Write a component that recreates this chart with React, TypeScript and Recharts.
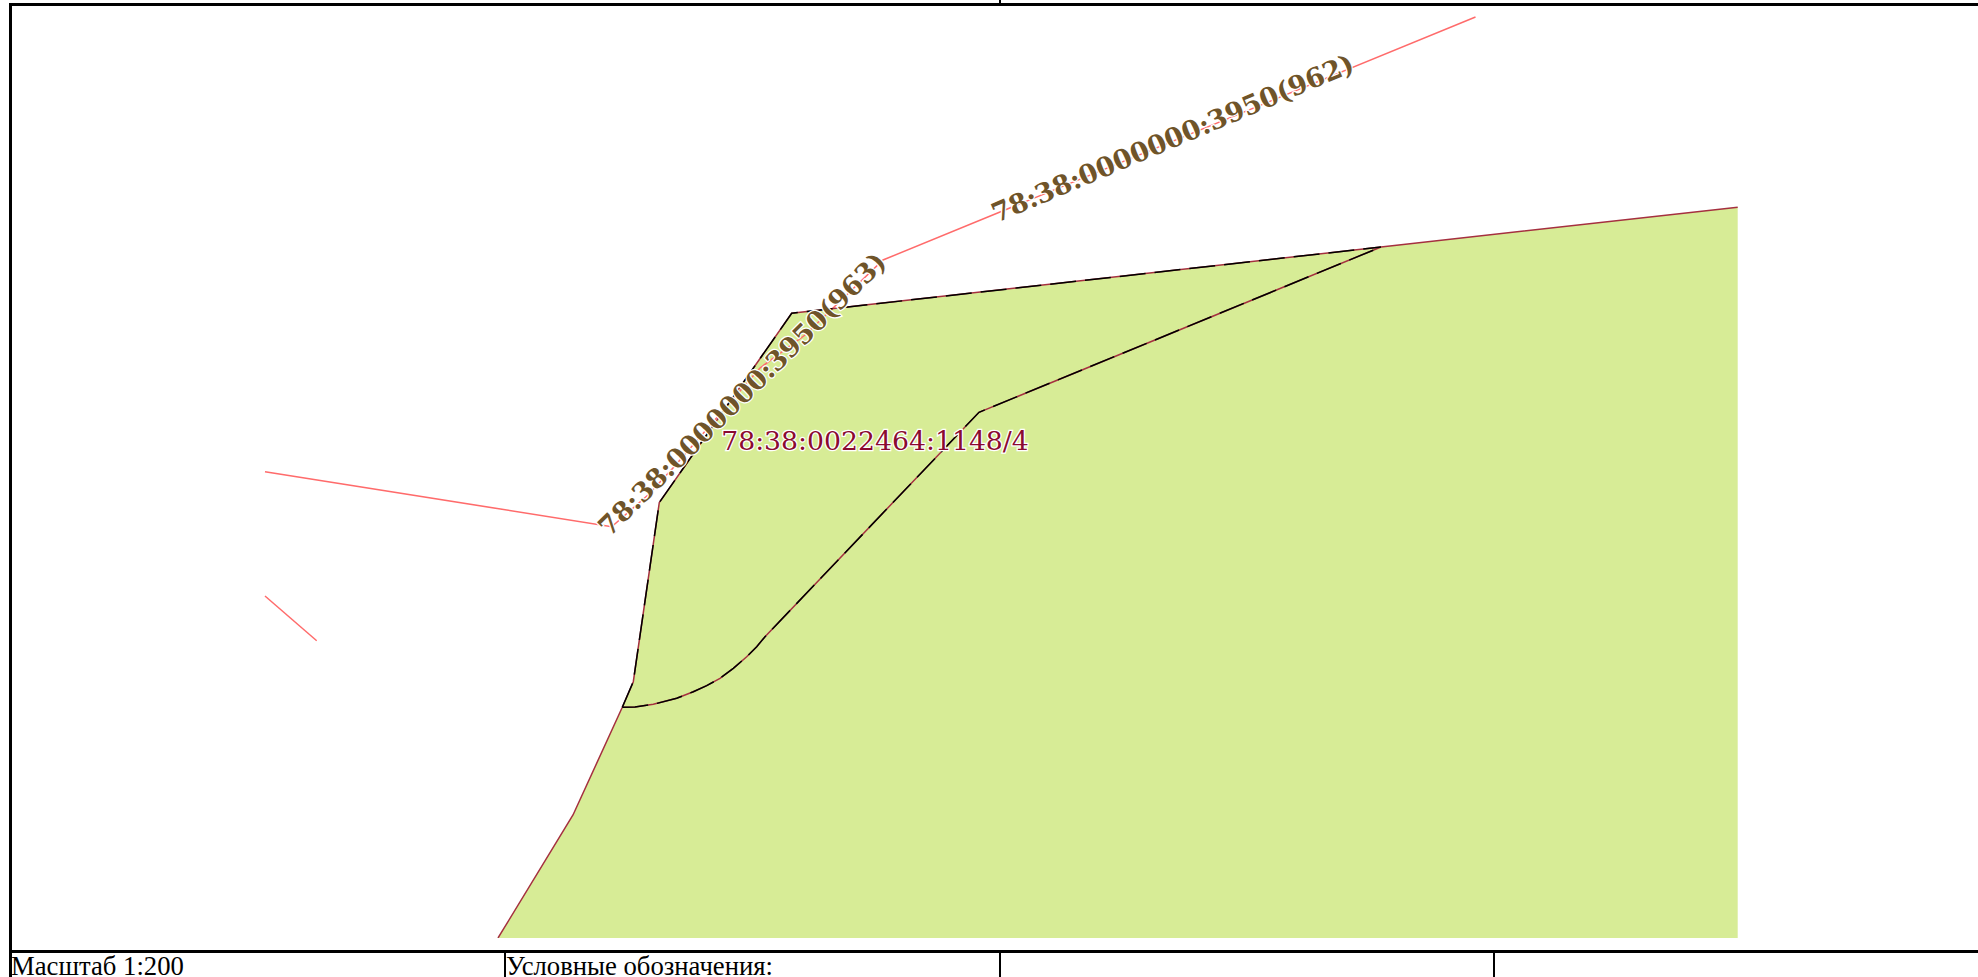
import React from 'react';
import { ComposedChart, Area, Line, XAxis, YAxis, ReferenceDot } from 'recharts';

// plan coordinates, x to the right and y up from the lower edge of the parcel
const parcelEdge = [
  { x: 498, y: 0 },
  { x: 573, y: 123 },
  { x: 622.3, y: 230.7 },
  { x: 633.3, y: 256.3 },
  { x: 659.3, y: 435.5 },
  { x: 791.7, y: 624.7 },
  { x: 1381, y: 691 },
  { x: 1737.7, y: 730.7 }
];

const innerEdge = [
  { x: 622.3, y: 230.7 },
  { x: 635, y: 231 },
  { x: 653.3, y: 233.7 },
  { x: 676.7, y: 239.7 },
  { x: 693.3, y: 246.3 },
  { x: 706.7, y: 252.3 },
  { x: 720, y: 259.7 },
  { x: 733.3, y: 269.7 },
  { x: 746.7, y: 281.3 },
  { x: 756.7, y: 291.3 },
  { x: 765, y: 301.3 },
  { x: 979, y: 525.7 },
  { x: 1381, y: 691 }
];

const dashedEdge = parcelEdge.slice(2, 7);

const neighbourLine = [
  { x: 265, y: 466.3 },
  { x: 611.7, y: 411.3 },
  { x: 648, y: 443 },
  { x: 673, y: 470 },
  { x: 760, y: 570 },
  { x: 805, y: 603 },
  { x: 883, y: 678 },
  { x: 1475.5, y: 921 }
];

const neighbourStub = [
  { x: 265, y: 342 },
  { x: 316.7, y: 297.3 }
];

const neighbourLabels = [
  { x: 742, y: 544, angle: -44.5, text: '78:38:0000000:3950(963)' },
  { x: 1172.5, y: 800, angle: -23, text: '78:38:0000000:3950(962)' }
];

const parcelLabel = { x: 875, y: 488, text: '78:38:0022464:1148/4' };

const serif = '"DejaVu Serif", serif';
const tableFont = '"Liberation Serif", serif';

const bar = (left: number, top: number, width: number, height: number) => (
  <div style={{ position: 'absolute', left, top, width, height, background: '#000' }} />
);

const NeighbourText = ({ cx, cy, angle, text }: any) => (
  <text
    x={cx}
    y={cy}
    transform={`rotate(${angle} ${cx} ${cy})`}
    textAnchor="middle"
    dominantBaseline="central"
    fontFamily={serif}
    fontWeight="bold"
    fontSize={26.8}
    fill="#6f5429"
    stroke="#fff"
    strokeWidth={2.5}
    paintOrder="stroke"
  >
    {text}
  </text>
);

const ParcelText = ({ cx, cy, text }: any) => (
  <text
    x={cx}
    y={cy}
    textAnchor="middle"
    fontFamily={serif}
    fontSize={26.7}
    fill="#8a0a30"
    stroke="#fff"
    strokeWidth={2.5}
    paintOrder="stroke"
  >
    {text}
  </text>
);

const lineProps = { type: 'linear', dot: false, activeDot: false, isAnimationActive: false } as const;

const App = () => (
  <div style={{ position: 'absolute', left: 0, top: 0, width: 1978, height: 977, overflow: 'hidden', background: '#fff' }}>
    <ComposedChart width={1978} height={938} margin={{ top: 0, right: 0, bottom: 0, left: 0 }}>
      <XAxis dataKey="x" type="number" domain={[0, 1978]} hide />
      <YAxis type="number" domain={[0, 938]} hide />
      <Area
        data={parcelEdge}
        dataKey="y"
        type="linear"
        fill="#d7ec96"
        fillOpacity={1}
        stroke="none"
        activeDot={false}
        isAnimationActive={false}
      />
      <Line {...lineProps} data={neighbourLine} dataKey="y" stroke="#ff6b6b" strokeWidth={1.5} />
      <Line {...lineProps} data={neighbourStub} dataKey="y" stroke="#ff6b6b" strokeWidth={1.5} />
      <Line {...lineProps} data={parcelEdge} dataKey="y" stroke="#a5303f" strokeWidth={1.5} />
      <Line {...lineProps} data={innerEdge} dataKey="y" stroke="#a5303f" strokeWidth={1.5} />
      <Line {...lineProps} data={dashedEdge} dataKey="y" stroke="#000" strokeWidth={1.5} strokeDasharray="26 9" />
      <Line {...lineProps} data={innerEdge} dataKey="y" stroke="#000" strokeWidth={1.5} strokeDasharray="26 9" />
      <ReferenceDot
        x={parcelLabel.x}
        y={parcelLabel.y}
        r={0}
        ifOverflow="visible"
        shape={(props: any) => <ParcelText {...props} text={parcelLabel.text} />}
      />
      {neighbourLabels.map((label) => (
        <ReferenceDot
          key={label.x}
          x={label.x}
          y={label.y}
          r={0}
          ifOverflow="visible"
          shape={(props: any) => <NeighbourText {...props} angle={label.angle} text={label.text} />}
        />
      ))}
    </ComposedChart>

    {/* sheet frame */}
    {bar(9, 3, 1969, 3)}
    {bar(9, 3, 3, 974)}
    {bar(9, 950, 1969, 3)}
    {bar(999, 0, 2, 3)}
    {bar(504, 953, 2, 24)}
    {bar(999, 953, 2, 24)}
    {bar(1493, 953, 2, 24)}
    <div style={{ position: 'absolute', left: 11, top: 951, fontFamily: tableFont, fontSize: 26.7, lineHeight: '31px', color: '#000' }}>
      Масштаб 1:200
    </div>
    <div style={{ position: 'absolute', left: 506, top: 951, fontFamily: tableFont, fontSize: 26.7, lineHeight: '31px', color: '#000' }}>
      Условные обозначения:
    </div>
  </div>
);

export default App;
